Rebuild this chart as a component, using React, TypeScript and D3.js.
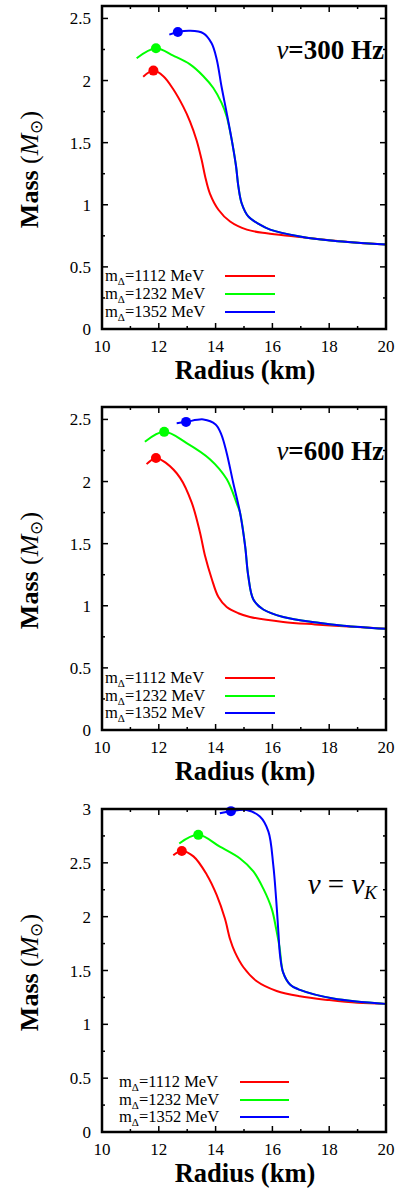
import React from "react";
import * as d3 from "d3";

type Pt = [number, number];

// Radius (km), Mass (Msun) — nu = 300 Hz
const red300: Pt[] = [[11.45,2.03],[11.81,2.08],[12.16,2.035],[12.51,1.93],[12.86,1.79],[13.10,1.67],[13.33,1.52],[13.51,1.36],[13.63,1.23],[13.80,1.09],[14.10,0.96],[14.51,0.865],[15.10,0.80],[15.80,0.77],[16.8,0.745],[18.0,0.715],[19.0,0.695],[20,0.68]];
const green300: Pt[] = [[11.22,2.18],[11.90,2.26],[12.51,2.20],[13.10,2.13],[13.57,2.035],[13.92,1.94],[14.21,1.82],[14.39,1.71],[14.57,1.52],[14.72,1.31],[14.80,1.15],[14.92,1.01],[15.15,0.906],[15.56,0.84],[15.92,0.80],[16.97,0.745],[18.14,0.71],[20,0.68]];
const blue300: Pt[] = [[12.37,2.37],[12.67,2.39],[13.10,2.40],[13.57,2.38],[13.86,2.30],[14.04,2.17],[14.21,1.95],[14.39,1.74],[14.57,1.52],[14.72,1.31],[14.80,1.15],[14.92,1.01],[15.15,0.906],[15.56,0.84],[15.92,0.80],[16.97,0.745],[18.14,0.71],[20,0.68]];

// nu = 600 Hz
const red600: Pt[] = [[11.57,2.14],[11.90,2.19],[12.25,2.15],[12.75,2.03],[13.16,1.83],[13.45,1.59],[13.63,1.40],[13.86,1.22],[14.10,1.07],[14.39,0.99],[14.8,0.94],[15.21,0.91],[16.38,0.87],[17.5,0.85],[18.5,0.835],[20,0.815]];
const green600: Pt[] = [[11.51,2.32],[12.19,2.40],[12.98,2.31],[13.80,2.18],[14.39,2.02],[14.75,1.82],[14.86,1.75],[15.04,1.48],[15.15,1.24],[15.33,1.05],[15.68,0.97],[16.38,0.91],[17.56,0.865],[18.5,0.84],[20,0.815]];
const blue600: Pt[] = [[12.63,2.47],[12.96,2.48],[13.57,2.50],[14.0,2.46],[14.2,2.38],[14.39,2.23],[14.62,1.99],[14.86,1.75],[15.04,1.48],[15.15,1.24],[15.33,1.05],[15.68,0.97],[16.38,0.91],[17.56,0.865],[18.5,0.84],[20,0.815]];

// nu = nu_K
const redK: Pt[] = [[12.51,2.57],[12.81,2.61],[13.22,2.56],[13.69,2.39],[14.04,2.20],[14.33,1.98],[14.51,1.79],[14.68,1.67],[14.98,1.53],[15.45,1.40],[16.15,1.31],[16.97,1.26],[18.0,1.225],[19.0,1.20],[20,1.19]];
const greenK: Pt[] = [[12.72,2.68],[13.39,2.76],[14.15,2.65],[14.86,2.54],[15.33,2.42],[15.68,2.26],[15.98,2.07],[16.13,1.89],[16.25,1.72],[16.38,1.48],[16.62,1.37],[16.97,1.32],[18.14,1.24],[20,1.19]];
const blueK: Pt[] = [[14.15,2.96],[14.54,2.98],[15.09,2.99],[15.56,2.93],[15.86,2.79],[16.03,2.48],[16.13,2.17],[16.21,1.86],[16.27,1.64],[16.38,1.48],[16.62,1.37],[16.97,1.32],[18.14,1.24],[20,1.19]];

const peakIndex = 1;
const legendMasses = ["1112", "1232", "1352"];
const seriesColors = ["#ff0000", "#00ff00", "#0000ff"];
const xTicks = [10, 12, 14, 16, 18, 20];
const yTicksA = [0, 0.5, 1, 1.5, 2, 2.5];
const yTicksB = [0, 0.5, 1, 1.5, 2, 2.5, 3];

const FONT = "'Liberation Serif', 'Times New Roman', serif";

type PanelCfg = {
  top: number;
  bottom: number;
  yMax: number;
  yTicks: number[];
  series: Pt[][];
  title: "300" | "600" | "K";
  legendX: number;
  legendLine: [number, number];
  legendRows: number[];
};

const panels: PanelCfg[] = [
  { top: 6, bottom: 329, yMax: 2.6, yTicks: yTicksA, series: [red300, green300, blue300], title: "300", legendX: 105, legendLine: [225, 275], legendRows: [-53, -35, -17] },
  { top: 407, bottom: 730, yMax: 2.6, yTicks: yTicksA, series: [red600, green600, blue600], title: "600", legendX: 105, legendLine: [225, 275], legendRows: [-52, -34, -17] },
  { top: 809, bottom: 1132, yMax: 3, yTicks: yTicksB, series: [redK, greenK, blueK], title: "K", legendX: 119, legendLine: [240, 289], legendRows: [-50, -32, -15] },
];

const LEFT = 102;
const RIGHT = 386;

function Panel({ cfg }: { cfg: PanelCfg }) {
  const x = d3.scaleLinear().domain([10, 20]).range([LEFT, RIGHT]);
  const y = d3.scaleLinear().domain([0, cfg.yMax]).range([cfg.bottom, cfg.top]);
  const line = d3
    .line<Pt>()
    .x((d) => x(d[0]))
    .y((d) => y(d[1]))
    .curve(d3.curveCatmullRom.alpha(0.5));
  const xMinor = d3.range(11, 20, 2);
  const yMinor = d3.range(0.25, cfg.yMax, 0.5);
  const major = 6;
  const minor = 3;
  const midY = (cfg.top + cfg.bottom) / 2;

  return (
    <g>
      {cfg.series.map((s, i) => (
        <path key={i} d={line(s) || ""} fill="none" stroke={seriesColors[i]} strokeWidth={2} />
      ))}
      {cfg.series.map((s, i) => (
        <circle key={"c" + i} cx={x(s[peakIndex][0])} cy={y(s[peakIndex][1])} r={5} fill={seriesColors[i]} />
      ))}
      {xTicks.map((t) => (
        <g key={"xt" + t}>
          <line x1={x(t)} x2={x(t)} y1={cfg.bottom} y2={cfg.bottom - major} stroke="#000" strokeWidth={1.5} />
          <line x1={x(t)} x2={x(t)} y1={cfg.top} y2={cfg.top + major} stroke="#000" strokeWidth={1.5} />
          <text x={x(t)} y={cfg.bottom + 23} textAnchor="middle" fontFamily={FONT} fontSize={17}>{t}</text>
        </g>
      ))}
      {xMinor.map((t) => (
        <g key={"xm" + t}>
          <line x1={x(t)} x2={x(t)} y1={cfg.bottom} y2={cfg.bottom - minor} stroke="#000" strokeWidth={1.5} />
          <line x1={x(t)} x2={x(t)} y1={cfg.top} y2={cfg.top + minor} stroke="#000" strokeWidth={1.5} />
        </g>
      ))}
      {cfg.yTicks.map((t) => (
        <g key={"yt" + t}>
          <line x1={LEFT} x2={LEFT + major} y1={y(t)} y2={y(t)} stroke="#000" strokeWidth={1.5} />
          <line x1={RIGHT} x2={RIGHT - major} y1={y(t)} y2={y(t)} stroke="#000" strokeWidth={1.5} />
          <text x={91} y={y(t) + 6} textAnchor="end" fontFamily={FONT} fontSize={17}>{t}</text>
        </g>
      ))}
      {yMinor.map((t) => (
        <g key={"ym" + t}>
          <line x1={LEFT} x2={LEFT + minor} y1={y(t)} y2={y(t)} stroke="#000" strokeWidth={1.5} />
          <line x1={RIGHT} x2={RIGHT - minor} y1={y(t)} y2={y(t)} stroke="#000" strokeWidth={1.5} />
        </g>
      ))}
      <rect x={LEFT} y={cfg.top} width={RIGHT - LEFT} height={cfg.bottom - cfg.top} fill="none" stroke="#000" strokeWidth={2.5} />
      {legendMasses.map((m, i) => {
        const ly = cfg.bottom + cfg.legendRows[i];
        return (
          <g key={"lg" + i}>
            <text x={cfg.legendX} y={ly + 5} fontFamily={FONT} fontSize={16.5}>
              m<tspan fontSize={11} dy={4}>Δ</tspan>
              <tspan dy={-4}>={m} MeV</tspan>
            </text>
            <line x1={cfg.legendLine[0]} x2={cfg.legendLine[1]} y1={ly} y2={ly} stroke={seriesColors[i]} strokeWidth={2} />
          </g>
        );
      })}
      {cfg.title === "K" ? (
        <text x={377} y={cfg.top + 85} textAnchor="end" fontFamily={FONT} fontSize={29} fontStyle="italic">
          ν<tspan fontStyle="normal"> = </tspan>ν<tspan fontSize={19} dy={5}>K</tspan>
        </text>
      ) : (
        <text x={384} y={cfg.top + 53} textAnchor="end" fontFamily={FONT} fontSize={27} fontWeight="bold">
          <tspan fontStyle="italic" fontWeight="normal">ν</tspan>={cfg.title} Hz
        </text>
      )}
      <text x={(LEFT + RIGHT) / 2 + 1} y={cfg.bottom + 50} textAnchor="middle" fontFamily={FONT} fontSize={26.5} fontWeight="bold">
        Radius (km)
      </text>
      <text transform={`translate(38,${midY + 2}) rotate(-90)`} textAnchor="middle" fontFamily={FONT} fontSize={26}>
        <tspan fontWeight="bold">Mass </tspan>(<tspan fontStyle="italic">M</tspan><tspan fontSize={17} dy={4}>⊙</tspan><tspan dy={-4}>)</tspan>
      </text>
    </g>
  );
}

export default function App() {
  return (
    <svg width={404} height={1189} style={{ position: "absolute", left: 0, top: 0, background: "#fff" }}>
      <rect width={404} height={1189} fill="#fff" />
      {panels.map((p, i) => (
        <Panel key={i} cfg={p} />
      ))}
    </svg>
  );
}
